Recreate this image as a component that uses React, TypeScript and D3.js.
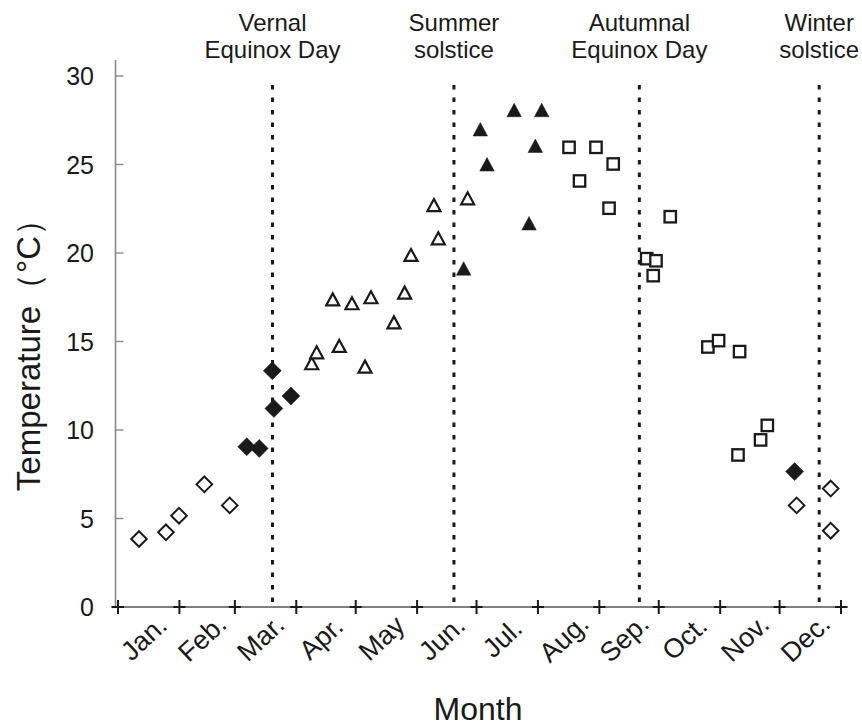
import React from "react";
import * as d3 from "d3";

const months = ["Jan.", "Feb.", "Mar.", "Apr.", "May", "Jun.", "Jul.", "Aug.", "Sep.", "Oct.", "Nov.", "Dec."];
const monthStarts = [0, 31, 59, 90, 120, 151, 181, 212, 243, 273, 304, 334, 365];
const yTicks = [0, 5, 10, 15, 20, 25, 30];

const seasonDays = [78, 169.6, 263.2, 354];
const seasonLabels = [
  ["Vernal", "Equinox Day"],
  ["Summer", "solstice"],
  ["Autumnal", "Equinox Day"],
  ["Winter", "solstice"],
];

// [day of year, temperature °C]
const openDiamond: [number, number][] = [
  [10.6, 3.84], [24.2, 4.22], [30.8, 5.16], [43.6, 6.93], [56.4, 5.74],
  [342.6, 5.74], [359.8, 6.69], [359.8, 4.31],
];
const filledDiamond: [number, number][] = [
  [65, 9.06], [71.3, 8.96], [77.9, 13.35], [78.7, 11.22], [87.3, 11.92], [341.6, 7.65],
];
const openTriangle: [number, number][] = [
  [97.8, 13.77], [100.3, 14.39], [111.7, 14.75], [124.7, 13.58], [108.4, 17.38],
  [118.1, 17.16], [127.7, 17.5], [139.3, 16.08], [144.7, 17.76], [147.9, 19.89],
  [161.7, 20.83], [159.5, 22.71], [176.5, 23.09],
];
const filledTriangle: [number, number][] = [
  [174.5, 19.13], [182.9, 26.99], [186.3, 25.01], [200, 28.08], [213.9, 28.08],
  [210.7, 26.06], [207.5, 21.68],
];
const openSquare: [number, number][] = [
  [227.7, 25.97], [241.3, 25.97], [250, 25.03], [233, 24.07], [247.9, 22.53],
  [278.8, 22.05], [266.9, 19.68], [271.6, 19.56], [270.2, 18.72], [297.8, 14.69],
  [303.2, 15.05], [313.8, 14.43], [327.8, 10.26], [324.4, 9.44], [313, 8.59],
];

const FONT = "'Liberation Sans', Arial, Helvetica, sans-serif";

export default function App() {
  const x = d3.scaleLinear().domain([0, 365]).range([118, 841]);
  const y = d3.scaleLinear().domain([0, 30]).range([607, 76]);
  const axisX = 115.5;
  const ink = "#1a1a1a";

  const diamond = (cx: number, cy: number, r: number) =>
    `M${cx},${cy - r}L${cx + r},${cy}L${cx},${cy + r}L${cx - r},${cy}Z`;
  const tri = (cx: number, cy: number, w: number, h: number) =>
    `M${cx},${cy - h / 2}L${cx + w / 2},${cy + h / 2}L${cx - w / 2},${cy + h / 2}Z`;

  return (
    <svg
      width={862}
      height={726}
      style={{ position: "absolute", left: 0, top: 0, background: "#fff" }}
      fontFamily={FONT}
    >
      <rect width={862} height={726} fill="#fff" />
      {/* season dashed lines */}
      {seasonDays.map((d, i) => (
        <line
          key={"s" + i}
          x1={x(d)}
          x2={x(d)}
          y1={85}
          y2={607}
          stroke={ink}
          strokeWidth={3}
          strokeDasharray="4.5,8"
        />
      ))}
      {/* season labels */}
      {seasonLabels.map((lines, i) => (
        <text key={"sl" + i} x={x(seasonDays[i])} textAnchor="middle" fontSize={24} fill={ink}>
          <tspan x={x(seasonDays[i])} y={31}>{lines[0]}</tspan>
          <tspan x={x(seasonDays[i])} y={58}>{lines[1]}</tspan>
        </text>
      ))}
      {/* y axis */}
      <line x1={axisX} x2={axisX} y1={60} y2={607} stroke="#888" strokeWidth={1.6} />
      {yTicks.map((t) => (
        <g key={"yt" + t}>
          <line x1={axisX} x2={axisX + 8} y1={y(t)} y2={y(t)} stroke="#888" strokeWidth={1.4} />
          <text x={94} y={y(t)} dy="0.36em" textAnchor="end" fontSize={25} fill={ink}>
            {t}
          </text>
        </g>
      ))}
      {/* x axis */}
      <line x1={111} x2={848} y1={607} y2={607} stroke="#555" strokeWidth={1.3} />
      {monthStarts.map((d, i) => (
        <g key={"xt" + i}>
          <line x1={x(d)} x2={x(d)} y1={600} y2={614} stroke={ink} strokeWidth={2} />
          <line x1={x(d) - 6} x2={x(d) + 6} y1={607} y2={607} stroke={ink} strokeWidth={2} />
        </g>
      ))}
      {months.map((m, i) => {
        const cx = x((monthStarts[i] + monthStarts[i + 1]) / 2) - 5;
        const cy = 638;
        return (
          <text
            key={"ml" + i}
            x={cx}
            y={cy}
            dy="0.35em"
            textAnchor="middle"
            fontSize={27}
            fill={ink}
            transform={`rotate(-43, ${cx}, ${cy})`}
          >
            {m}
          </text>
        );
      })}
      {/* axis titles */}
      <text x={478} y={720} textAnchor="middle" fontSize={32} fill={ink}>
        Month
      </text>
      <text
        x={40}
        y={347}
        textAnchor="middle"
        fontSize={33}
        fill={ink}
        transform="rotate(-90, 40, 347)"
      >
        Temperature（°C）
      </text>
      {/* markers */}
      {openDiamond.map(([d, v], i) => (
        <path key={"od" + i} d={diamond(x(d), y(v), 7.8)} fill="#fff" stroke={ink} strokeWidth={2} />
      ))}
      {filledDiamond.map(([d, v], i) => (
        <path key={"fd" + i} d={diamond(x(d), y(v), 9)} fill={ink} stroke={ink} strokeWidth={0.5} />
      ))}
      {openTriangle.map(([d, v], i) => (
        <path key={"ot" + i} d={tri(x(d), y(v), 13, 12)} fill="#fff" stroke={ink} strokeWidth={2.2} strokeLinejoin="miter" />
      ))}
      {filledTriangle.map(([d, v], i) => (
        <path key={"ft" + i} d={tri(x(d), y(v), 14.5, 13.5)} fill={ink} stroke={ink} strokeWidth={0.5} />
      ))}
      {openSquare.map(([d, v], i) => (
        <rect
          key={"os" + i}
          x={x(d) - 5.7}
          y={y(v) - 5.7}
          width={11.4}
          height={11.4}
          fill="#fff"
          stroke={ink}
          strokeWidth={2.3}
        />
      ))}
    </svg>
  );
}
